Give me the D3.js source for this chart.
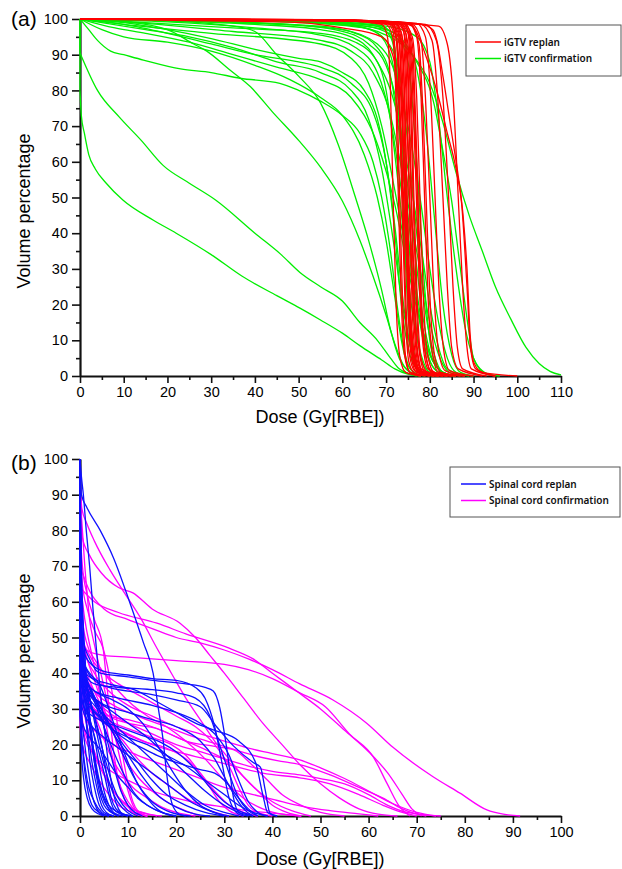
<!DOCTYPE html>
<html>
<head>
<meta charset="utf-8">
<script src="https://cdn.jsdelivr.net/npm/d3@7"></script>
<style>
  body { margin: 0; background: #fff; }
  svg { display: block; font-family: "Liberation Sans", Arial, sans-serif; }
  .legend text { font-family: "Noto Sans", sans-serif; font-size: 10px; font-weight: 600; }
</style>
</head>
<body>
<svg id="chart" width="622" height="869"></svg>
<script>
// ---- data: each curve is a list of [dose, volume %] points ----
const xTicksA = [0, 10, 20, 30, 40, 50, 60, 70, 80, 90, 100, 110];
const xTicksB = [0, 10, 20, 30, 40, 50, 60, 70, 80, 90, 100];
const yTicks = [0, 10, 20, 30, 40, 50, 60, 70, 80, 90, 100];

const legendA = ["iGTV replan", "iGTV confirmation"];
const legendB = ["Spinal cord replan", "Spinal cord confirmation"];

const iGTVConfirmation = [
  [[0,80],[0.3,73],[1,68],[2,62],[3.5,58],[6,54],[9.8,49.3],[16.7,43.7],[22,40],[30,34],[37,28],[45,22.5],[50.3,19],[55,15.7],[60,12],[64,8.5],[69,4.5],[72,2],[75,0.5],[78,0]],
  [[0,90.5],[4,80],[9,72.5],[14,66],[19,59],[25,54],[31,49.3],[40,40],[46,34],[50.3,29],[55,25],[60,21],[64,15],[68,10],[71,5],[73,2],[77,0]],
  [[0,100],[2,97],[4,94],[7,91],[10,90],[14.5,88.5],[23,86],[30,85],[36.6,83.4],[45.7,82],[50,80],[55,77],[60,73],[64,68],[67,60],[69,50],[71,35],[72.5,20],[74,8],[75.5,2],[78,0]],
  [[0,100],[10,99.3],[20,97],[26,93],[29,91],[34,86],[39,81],[44,74],[50,66],[55,58.5],[60,49],[64,38],[67,28],[70,17],[72,9],[74,3],[76,0.8],[79,0]],
  [[0,100],[20,99.5],[35,98],[40,96.5],[45,90],[50,84],[55,76.5],[59,65],[63,50],[66,38],[69,24],[71,13],[73,5],[75,1.5],[78,0]],
  [[0,100],[5,97],[10,95],[20,93.5],[30,91],[40,87],[48,83],[55,78],[60,73],[65,62],[68,50],[70,38],[72,22],[73.5,10],[75,3],[78,0]],
  [[0,100],[10,99],[20,97],[30,94.5],[40,91.5],[50,89],[55,88],[60,85],[65,80],[68,72],[70,60],[72,40],[73.5,20],[75,8],[77,2],[80,0]],
  [[0,100],[10,98.5],[20,96],[30,93],[40,90],[50,88],[55,86.5],[62,82],[67,74],[70,60],[72,42],[74,20],[76,6],[78,1],[82,0]],
  [[0,100],[5,99],[15,97],[25,95],[35,92],[45,88],[55,85],[62,80],[66,72],[69,58],[72,35],[74,18],[76,6],[78,1],[81,0]],
  [[0,100],[8,97.5],[15,96],[25,93.5],[35,90],[45,86.5],[55,83],[62,78],[68,65],[72,48],[75,30],[78,14],[80,6],[83,1],[86,0]],
  [[0,100],[30,99.8],[55,99],[63,98],[68,96],[71,90],[73,75],[74.5,50],[76,25],[77.5,8],[79,2],[82,0]],
  [[0,100],[20,99.5],[40,98.5],[55,97],[62,95],[67,90],[70,80],[72,62],[74,40],[76,18],[78,6],[80,1],[84,0]],
  [[0,100],[20,99.2],[40,97.5],[55,95.5],[63,92],[68,85],[71,72],[73.5,52],[76,30],[78,13],[80,4],[83,0.5],[86,0]],
  [[0,100],[15,98.8],[35,96.5],[55,94],[62,91],[67,85],[71,73],[74,55],[77,35],[80,15],[82,6],[84,1.5],[87,0]],
  [[0,100],[10,98.5],[30,96],[55,93],[62,89],[66,82],[69,70],[72,52],[75,32],[78,15],[80,6],[83,1],[86,0]],
  [[0,100],[25,99.5],[45,98.5],[55,98],[63,96],[68,92],[71,84],[73,68],[75,45],[77,24],[79,9],[81,2],[84,0]],
  [[0,100],[15,99],[35,97.5],[55,96],[63,93.5],[68,88],[72,76],[75,58],[78,36],[80,20],[82,8],[84,2],[88,0]],
  [[0,100],[40,99.8],[65,99],[70,97.5],[72,92],[73.5,60],[75,25],[76.5,6],[78,1],[81,0]],
  [[0,100],[40,99.7],[65,98.5],[72,96],[75,88],[77,60],[78.5,30],[80,10],[81.5,3],[84,0]],
  [[0,100],[50,99.5],[70,97],[76,90],[79,70],[81,45],[83,20],[85,6],[87,1],[90,0]],
  [[0,100],[50,99.6],[70,98],[77,95],[80,88],[82,72],[84,50],[86,30],[88,14],[90,5],[92,1.5],[95,0]],
  [[0,100],[40,99.5],[65,98],[72,95],[77,88],[81,76],[83,63],[85,49],[87,30],[89,12],[90,5],[93,0.5],[96,0]],
  [[0,100],[40,99.6],[60,98.5],[70,95.5],[76,90],[80,82],[83,71],[86,57],[89,45],[92,35],[95,25],[98.5,16],[102,8],[105,3.5],[107.5,1.3],[110,0.3]],
  [[0,100],[50,99.5],[68,98],[71,95],[72.5,85],[73.5,60],[74.5,30],[75.5,10],[77,2],[80,0]],
  [[0,100],[45,99.3],[65,97.5],[70,94],[73,85],[75,65],[77,40],[79,18],[81,6],[83,1],[86,0]],
  [[0,100],[40,99],[60,97],[68,93],[72,85],[75,70],[78,48],[80,30],[82,15],[84,5],[86,1],[89,0]],
  [[0,100],[30,99.4],[50,98.2],[60,96.5],[66,93],[70,87],[72.5,76],[74.5,58],[76.5,36],[78.5,16],[80.5,5],[83,1],[86,0]]
];

const iGTVReplan = [
  [[0,100],[50,99.8],[70,99],[71.5,97],[72.3,85],[73,55],[73.8,20],[74.5,5],[75.5,1],[78,0]],
  [[0,100],[50,99.8],[70,99.2],[72,97.5],[72.8,85],[73.6,50],[74.4,18],[75.2,4],[76.5,0.8],[80,0]],
  [[0,100],[55,99.7],[71,99],[72.8,96],[73.6,80],[74.3,50],[75,20],[75.8,5],[77,1],[81,0]],
  [[0,100],[55,99.8],[72,99],[73.5,96],[74.2,80],[74.8,50],[75.5,20],[76.3,6],[77.5,1],[82,0]],
  [[0,100],[55,99.8],[72,99.2],[74,96.5],[74.7,82],[75.3,50],[76,18],[76.8,5],[78,1],[83,0]],
  [[0,100],[60,99.7],[72.5,99],[74.5,96],[75.2,80],[75.8,50],[76.5,22],[77.3,6],[78.5,1],[84,0]],
  [[0,100],[60,99.6],[73,99],[75,96],[75.8,78],[76.4,48],[77.2,18],[78,5],[79.5,1],[85,0]],
  [[0,100],[60,99.7],[71,98.5],[72.5,94],[73.5,75],[74.5,45],[75.5,18],[76.5,5],[78,1],[82,0]],
  [[0,100],[60,99.5],[70,98.5],[71.5,95],[72.2,80],[72.8,50],[73.5,20],[74.2,6],[75.5,1],[79,0]],
  [[0,100],[60,99.6],[73.5,99],[75.5,95],[76.5,75],[77.3,45],[78,20],[79,6],[80.5,1],[86,0]],
  [[0,100],[60,99.6],[74,98.8],[76,95],[77,78],[77.8,48],[78.6,20],[79.5,6],[81,1],[86,0]],
  [[0,100],[60,99.7],[75,99],[77,95],[78,78],[78.8,50],[79.6,22],[80.5,7],[82,1],[88,0]],
  [[0,100],[60,99.7],[76,98.5],[78,94],[79,78],[80,50],[81,22],[82,7],[83.5,1.5],[88,0]],
  [[0,100],[60,99.7],[77,98.8],[79,95],[80.2,78],[81.2,50],[82.2,22],[83.2,7],[84.5,1.5],[90,0]],
  [[0,100],[60,99.7],[78,98.5],[80.5,94],[81.8,78],[83,50],[84,25],[85,8],[86.5,2],[92,0]],
  [[0,100],[60,99.7],[79,98.5],[81.5,94],[83,78],[84.3,50],[85.3,25],[86.3,8],[87.5,2],[93,0]],
  [[0,100],[60,99.5],[78,98.5],[80.7,97],[81.6,94],[83,84],[85,68],[86.5,56],[87.6,45],[88.5,30],[89.2,12],[90,4],[92,1],[100,0]],
  [[0,100],[60,99.5],[73,99],[76,98],[79,90],[82,78],[84,68],[86,58],[87.3,48],[88.5,25],[89.3,8],[90.5,2],[95,0]],
  [[0,100],[30,99.5],[50,99],[60,97.5],[69,95],[71.5,90],[73,75],[74,50],[75,25],[76,8],[77.5,2],[81,0]],
  [[0,100],[60,99.6],[71.5,98.5],[73,93],[73.8,70],[74.6,40],[75.4,15],[76.2,4],[77.5,1],[81,0]],
  [[0,100],[60,99.6],[72.5,98.5],[74,93],[74.8,70],[75.6,40],[76.4,15],[77.2,4],[78.5,1],[83,0]],
  [[0,100],[60,99.6],[73.5,98.5],[75,93],[75.7,72],[76.3,45],[77,18],[77.8,5],[79,1],[84,0]],
  [[0,100],[60,99.6],[74.5,98.5],[76,93],[76.8,70],[77.5,42],[78.3,16],[79.2,5],[80.5,1],[85,0]],
  [[0,100],[60,99.6],[71,98.8],[72.2,95],[73,82],[73.7,55],[74.4,25],[75.2,7],[76.5,1.5],[80,0]],
  [[0,100],[60,99.6],[72,98.5],[73.3,94],[74,75],[74.7,45],[75.5,15],[76.3,4],[77.8,1],[82,0]],
  [[0,100],[60,99.6],[73,99],[74.3,95],[75,82],[75.6,55],[76.3,25],[77,8],[78,2],[83,0]],
  [[0,100],[60,99.6],[75.5,98.5],[77.5,93],[78.5,72],[79.3,45],[80.2,18],[81.2,5],[82.5,1],[87,0]],
  [[0,100],[60,99.6],[82,98],[84,93],[85.5,75],[86.5,50],[87.5,25],[88.5,8],[89.5,2],[95,0]],
  [[0,100],[60,99.5],[69,98.5],[70.3,95],[71,80],[71.6,50],[72.3,20],[73.2,5],[74.5,1],[78,0]],
  [[0,100],[60,99.6],[72,99],[73.2,96],[74,85],[74.6,60],[75.2,30],[76,10],[77,2.5],[81,0]],
  [[0,100],[60,99.6],[73.8,99],[75.2,96],[76,82],[76.8,55],[77.6,25],[78.5,8],[79.6,2],[84,0]]
];

const cordConfirmation = [
  [[0,94],[0.4,86],[1.4,82],[3,77],[6.2,69],[9,63],[12.5,55.7],[16,47],[19,40],[22,33],[25,27],[28,21],[31,16],[34,11],[37,7],[40,4],[44,1.5],[48,0]],
  [[0,84],[0.5,78],[2,73],[4.5,68],[8,64],[11,62.5],[15,58],[20.8,54],[24,50],[27,45],[30,40],[34,33],[38,26],[42,20],[46,14],[50,9],[54,5],[58,2],[62,0.5],[66,0]],
  [[0,64],[3,60],[8,57],[16,54],[22,51],[31,47],[36,44],[40,40],[45,35],[50,30],[55,24],[60,18],[64,12],[67,6],[69,2],[71,0]],
  [[0,70],[2,63],[5,58],[10,55],[15,52.5],[20,50],[25,48.5],[30,46.5],[35,44],[40,41],[45.7,37],[52.6,32.5],[59.6,26],[65,19.3],[73.4,11],[79,6.4],[84.6,1.7],[88,0.5],[91.5,0]],
  [[0,48],[2,46],[5,45],[10,44.5],[20,43.5],[30,42.5],[35,41],[40,38.5],[45.7,34.5],[51,30.6],[56,23],[61,16.5],[63.8,9.2],[66.5,2.5],[68.6,0]],
  [[0,90],[0.5,80],[1,70],[1.5,62],[2,55],[3,48],[4,42],[5,36],[6,30],[7,24],[8,18],[9,12],[10,7],[11,3],[12,1],[14,0]],
  [[0,75],[0.5,65],[1.5,58],[3,52],[4.8,47],[6,40],[7,32],[8,24],[9,16],[10,9],[11,4],[12,1.5],[14,0]],
  [[0,70],[0.5,55],[1.5,48],[3,44],[5,40],[8,35],[11,31],[14,28],[18,25],[22,21],[26,16],[30,10],[34,5],[38,2],[42,0.5],[46,0]],
  [[0,50],[1,40],[3,33],[6,28],[10,26],[16,24.5],[22,21],[28,19.5],[32,18.5],[36,14],[39,10],[42,6],[46,3],[50,1],[55,0]],
  [[0,55],[1,46],[3,40],[6,35],[10,31],[15,28],[20,25],[25,23],[30,21],[35,19],[40,17.5],[45.7,15.7],[50,13.5],[55,10.5],[60,7],[65,3.5],[70,1],[74,0]],
  [[0,48],[1,40],[3,35],[7,31],[12,28],[18,25],[24,22],[30,19.5],[36,17],[41,15.5],[45.7,14.4],[52,11.5],[58,8],[63,5],[67,2],[70,0.5],[72,0]],
  [[0,45],[1,38],[3,33],[6,29],[10,26],[15,23],[20,20],[25,18],[30,16],[35,14],[40,12.5],[45.7,11.5],[50,10.5],[55,9],[60,6],[64,3],[68,1],[75,0]],
  [[0,42],[1,35],[3,30],[6,26],[10,23],[15,20],[20,18],[26,16],[32,14],[38,12],[45.7,10.7],[52,9],[58,6],[63,3],[67,1],[70,0]],
  [[0,35],[1,28],[3,24],[7,20],[12,17],[18,14],[24,11],[30,8],[36,6],[42,4],[47,2.5],[52,1.5],[58,0.6],[62,0]],
  [[0,30],[1,22],[3,17],[6,13],[10,10],[15,7],[20,5],[25,3.5],[30,2.5],[35,1.5],[40,0.8],[46,0]],
  [[0,60],[0.5,50],[1.5,44],[3,38],[5,30],[7,23],[9,17],[12,11],[15,7],[18,4],[21,2],[25,0]],
  [[0,52],[0.5,44],[2,38],[4,32],[6,26],[9,21],[12,16],[15,12],[18,9],[21,6],[24,3.5],[27,1.5],[31,0]],
  [[0,48],[0.5,40],[2,32],[4,25],[6,18],[8,13],[11,8],[14,5],[17,2.5],[20,1],[24,0]],
  [[0,40],[0.5,32],[1.5,25],[3,18],[5,12],[7,7],[9,4],[11,2],[14,0.5],[17,0]],
  [[0,35],[0.5,27],[2,20],[4,14],[6,9],[8,5],[10,2.5],[13,1],[16,0]],
  [[0,45],[0.5,36],[2,30],[4,28],[7,26],[11,24],[15,22],[19,20],[22,17],[25,12],[27,8],[29,4],[31,1.5],[34,0]],
  [[0,58],[0.5,50],[2,45],[5,40],[8,37],[12,34],[16,31],[20,28],[24,25],[28,20],[31,14],[33,8],[35,3],[37,1],[40,0]],
  [[0,40],[1,34],[3,30],[6,28],[10,27],[15,25],[22,21],[27,18],[31,15],[34,11],[37,7],[40,3],[43,1],[46,0]],
  [[0,25],[0.5,20],[2,15],[4,10],[6,6],[8,3],[10,1.5],[12,0.5],[14,0]],
  [[0,66],[1,55],[2.5,45],[4,35],[5.5,25],[7,15],[8.5,8],[10,4],[12,1],[14,0]],
  [[0,80],[0.5,70],[1.5,62],[3,55],[4.8,47],[5.5,38],[6.2,28],[7,18],[8,10],[9.5,4],[11,1],[13,0]],
  [[0,38],[1,32],[4,27],[8,24],[13,21],[18,19],[22,16],[25,12],[28,7],[31,3],[34,1],[37,0]]
];

const cordReplan = [
  [[0,100],[0.3,90],[1.4,86.5],[4.2,80],[6.9,72.5],[10.4,59.6],[13.2,48.5],[15.2,40],[16.3,30],[17.3,21],[18,12],[19.4,2.5],[21,0.3],[23,0]],
  [[0,60],[0.5,50],[2,44],[4.2,40],[10,39],[15.2,38],[22,37],[26,36],[27.7,35],[29,30.6],[30.5,19],[32,4.5],[33,1],[35,0]],
  [[0,55],[0.5,47],[2,43],[5,40.5],[10,39.5],[15,38.5],[20,38],[24,36],[26,33],[28,25],[29.5,15],[31,5],[32.5,1],[34,0]],
  [[0,50],[1,42],[3,38],[6,36],[10,35],[15,34],[20,32.5],[25,30.6],[28.4,25],[32,19.5],[36,15],[37.5,13.7],[38.5,7.3],[39.5,0.8],[41,0]],
  [[0,48],[1,40],[3,37],[8,36],[14,35.5],[20,34.5],[24,33],[27,28],[29,20],[31,12],[33,5],[35,1.5],[37,0]],
  [[0,45],[1,38],[3,35],[8,33],[15,31],[20,29],[25,26],[28,23],[31,17],[33,10],[35,4],[37,1],[39,0]],
  [[0,42],[1,36],[4,32],[10,29],[15,27],[20,25],[25,21],[28,16],[30,11],[32,6],[34,2],[36,0]],
  [[0,45],[0.8,38],[3,33],[6,30],[10,26],[14,22],[18,17],[22,12],[26,7],[30,3],[33,1],[36,0]],
  [[0,40],[1,35],[3,31],[6,27],[10,22],[14,17],[18,12],[22,7],[26,3],[30,1],[33,0]],
  [[0,44],[1,37],[3,32],[6,26],[9,20],[12,15],[15,10],[18,6],[22,3],[26,1],[30,0]],
  [[0,50],[0.5,42],[2,36],[4,30],[7,23],[10,17],[13,11],[16,6],[20,2.5],[24,0.5],[27,0]],
  [[0,38],[1,33],[3,29],[6,25],[10,22],[14,20],[18,17],[22,14],[26,10],[30,6],[33,3],[36,1],[39,0]],
  [[0,35],[1,30],[4,27],[8,25],[12,23],[17,20.5],[20,18],[24,13],[27,8],[30,4],[33,1.5],[36,0]],
  [[0,43],[1,38],[3,35],[6,33],[10,30],[13,26],[16,20],[19,13],[22,7],[25,3],[28,1],[31,0]],
  [[0,40],[1,34],[4,28],[7,24],[10,21],[13,19],[16,17],[20,15],[25,13],[28,12],[30,10],[33,5],[35,2],[37,0]],
  [[0,100],[0.3,95],[0.7,90],[1.3,80],[2,70],[2.7,58],[3.4,47],[4,38],[5,25],[6,14],[7,6],[8,2],[9,0.5],[11,0]],
  [[0,95],[0.3,70],[0.8,50],[1.5,35],[2.5,22],[3.5,12],[4.5,6],[6,2],[8,0]],
  [[0,90],[0.3,65],[1,45],[2,28],[3,15],[4,7],[5,3],[6.5,1],[8,0]],
  [[0,85],[0.2,60],[0.6,42],[1.2,28],[2,16],[3,8],[4,3],[5,1],[7,0]],
  [[0,80],[0.3,55],[1,38],[2,25],[3,15],[4.5,7],[6,3],[8,1],[10,0]],
  [[0,75],[0.4,52],[1.2,40],[2.5,30],[4,20],[5.5,12],[7,6],[9,2],[11,0]],
  [[0,70],[0.3,50],[1,40],[2,33],[3.5,25],[5,17],[6.5,10],[8,5],[10,1.5],[12,0]],
  [[0,65],[0.3,48],[1,40],[2.5,35],[4,30],[5.5,22],[7,14],[8.5,7],[10,3],[13,0]],
  [[0,60],[0.5,45],[1.5,38],[3,32],[5,25],[7,18],[9,12],[11,7],[14,3],[17,1],[20,0]],
  [[0,55],[0.5,42],[2,36],[4,31],[6,26],[8,20],[10,14],[12,9],[15,4],[18,1.5],[22,0]],
  [[0,50],[0.3,40],[1,33],[2,25],[3,17],[4,10],[5,5],[6,2],[8,0]],
  [[0,45],[0.5,35],[1.5,25],[2.5,15],[3.5,8],[4.5,3],[5.5,1],[7,0]],
  [[0,40],[0.3,30],[1,20],[1.8,12],[2.5,6],[3.5,2],[5,0]],
  [[0,35],[0.3,25],[0.8,15],[1.5,8],[2.5,3],[4,1],[6,0]],
  [[0,30],[0.3,18],[0.8,10],[1.5,5],[2.5,2],[4,0.5],[5,0]],
  [[0,28],[0.5,20],[1.5,10],[3,4],[4.5,1],[6,0]],
  [[0,42],[0.5,36],[1.5,30],[3,22],[4,14],[5,7],[6,3],[7,1],[9,0]],
  [[0,47],[0.5,40],[1.5,35],[3,28],[4.5,20],[5.5,12],[6.5,5],[7.5,2],[9,0.5],[11,0]],
  [[0,38],[0.5,32],[2,27],[3.5,20],[5,12],[6,6],[7,2],[8.5,0.5],[10,0]],
  [[0,52],[0.5,44],[2,40],[4,37],[6,30],[8,22],[10,15],[12,9],[14,5],[16,2],[19,0]],
  [[0,33],[0.5,26],[2,22],[4,19],[6,15],[8,11],[10,8],[12,5],[14,3],[17,1],[20,0]],
  [[0,36],[0.5,30],[2,26],[5,22],[8,19],[11,16],[14,13],[17,10],[20,7],[23,4],[26,2],[30,0]],
  [[0,46],[0.5,41],[2,39],[6,37],[12,35],[16,32],[20,29],[24,26],[28,24],[33,21],[36.5,15],[38,6],[39,1],[41,0]]
];

const svg = d3.select("#chart");

const panels = [
  {
    label: "(a)", top: 19, bottom: 376, xMax: 110, xTicks: xTicksA,
    titleY: 423, labelY: 26, ylabelY: 211,
    series: [
      { curves: iGTVConfirmation, color: "#00ee00" },
      { curves: iGTVReplan, color: "#ff0000" }
    ],
    legend: { x: 466, y: 25, w: 155, h: 51, names: legendA, colors: ["#ff0000", "#00ee00"], x1: 475, x2: 501 }
  },
  {
    label: "(b)", top: 459, bottom: 816, xMax: 100, xTicks: xTicksB,
    titleY: 865, labelY: 470, ylabelY: 651,
    series: [
      { curves: cordConfirmation, color: "#ff00ff" },
      { curves: cordReplan, color: "#1010ff" }
    ],
    legend: { x: 450, y: 467, w: 170, h: 50, names: legendB, colors: ["#1010ff", "#ff00ff"], x1: 461, x2: 486 }
  }
];

panels.forEach(drawPanel);

function drawPanel(p) {
  const x = d3.scaleLinear().domain([0, p.xMax]).range([80, 561]);
  const y = d3.scaleLinear().domain([0, 100]).range([p.bottom, p.top]);
  const g = svg.append("g");

  // minor ticks first, then the labelled axes
  const minorX = d3.range(5, p.xMax, 10);
  const minorY = d3.range(5, 100, 10);

  g.append("g")
    .attr("transform", `translate(0,${p.bottom})`)
    .call(d3.axisBottom(x).tickValues(minorX).tickSize(4).tickFormat(""))
    .call((a) => a.select(".domain").remove());
  g.append("g")
    .attr("transform", "translate(80,0)")
    .call(d3.axisLeft(y).tickValues(minorY).tickSize(4).tickFormat(""))
    .call((a) => a.select(".domain").remove());

  const xAxis = g.append("g")
    .attr("transform", `translate(0,${p.bottom})`)
    .call(d3.axisBottom(x).tickValues(p.xTicks).tickSize(7).tickSizeOuter(0).tickPadding(4));
  const yAxis = g.append("g")
    .attr("transform", "translate(80,0)")
    .call(d3.axisLeft(y).tickValues(yTicks).tickSize(8).tickSizeOuter(0).tickPadding(4));

  [xAxis, yAxis].forEach((a) => {
    a.selectAll("text").attr("font-size", 14.5).attr("fill", "#000").attr("font-family", "Liberation Sans, Arial, sans-serif");
    a.select(".domain").attr("stroke", "#111").attr("stroke-width", 2.2);
  });
  g.selectAll("g.tick line").attr("stroke", "#111").attr("stroke-width", 1.6);

  // curves
  const line = d3.line()
    .x((d) => x(d[0]))
    .y((d) => y(d[1]))
    .curve(d3.curveMonotoneX);
  const drop = d3.line().x((d) => x(d[0])).y((d) => y(d[1]));

  p.series.forEach((s) => {
    const layer = g.append("g")
      .attr("fill", "none")
      .attr("stroke", s.color)
      .attr("stroke-width", 1.3)
      .attr("stroke-linejoin", "round");

    // vertical drop at zero dose (every DVH starts at 100 %)
    layer.selectAll("path.drop")
      .data(s.curves.filter((c) => c[0][1] < 100))
      .join("path")
      .attr("class", "drop")
      .attr("d", (c) => drop([[0, 100], c[0]]));

    layer.selectAll("path.dvh")
      .data(s.curves)
      .join("path")
      .attr("class", "dvh")
      .attr("d", line);
  });

  // titles
  g.append("text")
    .attr("x", 11)
    .attr("y", p.labelY)
    .attr("font-size", 21)
    .text(p.label);

  g.append("text")
    .attr("x", 320)
    .attr("y", p.titleY)
    .attr("text-anchor", "middle")
    .attr("font-size", 18)
    .text("Dose (Gy[RBE])");

  g.append("text")
    .attr("transform", `translate(30,${p.ylabelY}) rotate(-90)`)
    .attr("text-anchor", "middle")
    .attr("font-size", 18)
    .text("Volume percentage");

  // legend
  const L = p.legend;
  const lg = g.append("g").attr("class", "legend");
  lg.append("rect")
    .attr("x", L.x).attr("y", L.y)
    .attr("width", L.w).attr("height", L.h)
    .attr("fill", "#fff")
    .attr("stroke", "#555")
    .attr("stroke-width", 1);

  L.names.forEach((name, i) => {
    const ly = L.y + 17 + i * 16.5;
    lg.append("line")
      .attr("x1", L.x1).attr("x2", L.x2)
      .attr("y1", ly).attr("y2", ly)
      .attr("stroke", L.colors[i])
      .attr("stroke-width", 1.5);
    lg.append("text")
      .attr("x", L.x2 + 3)
      .attr("y", ly + 3.5)
      .attr("fill", "#111")
      .text(name);
  });
}
</script>
</body>
</html>
